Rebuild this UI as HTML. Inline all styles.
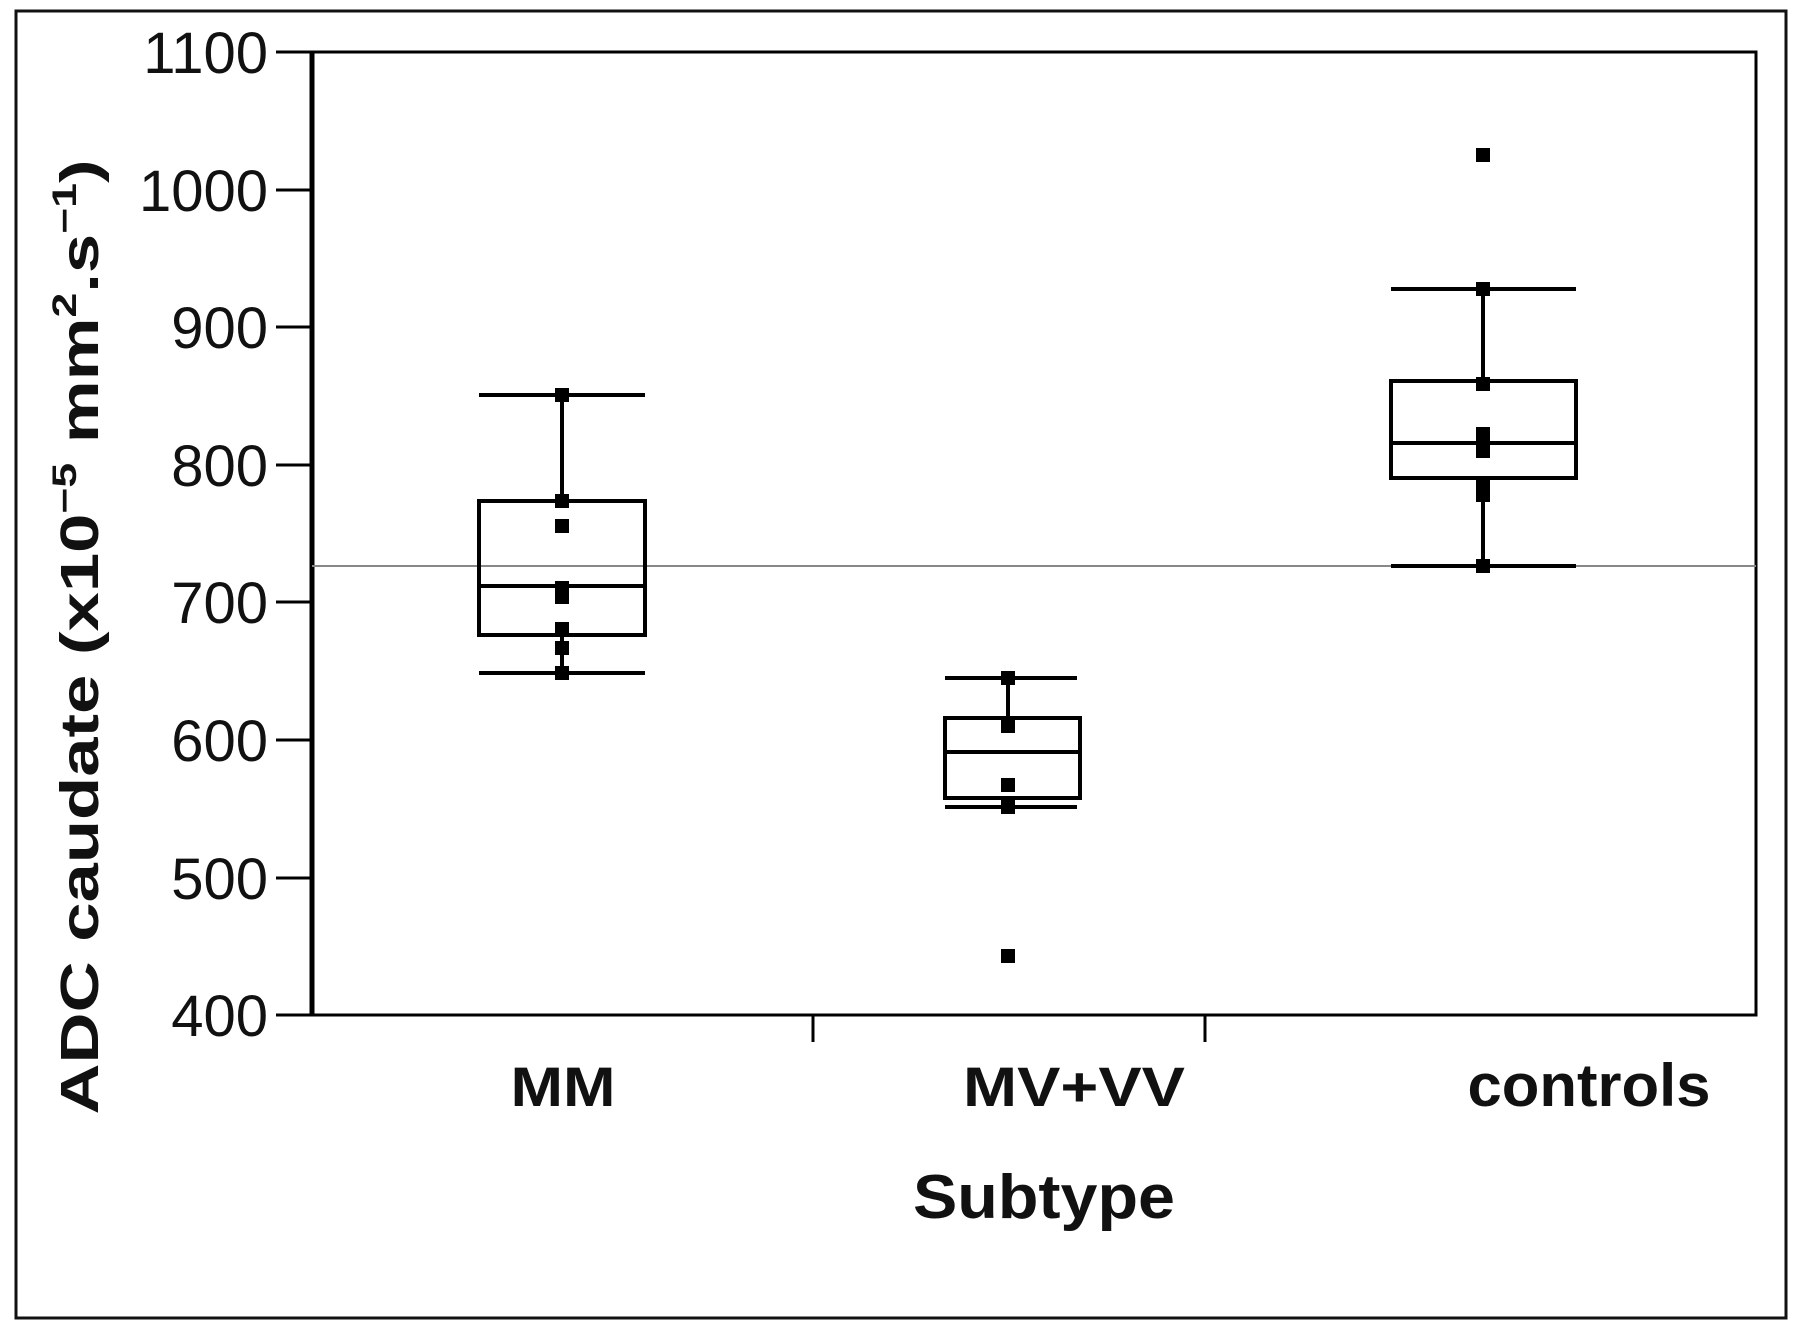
<!DOCTYPE html>
<html><head><meta charset="utf-8"><style>body{margin:0;background:#fff}svg{display:block}</style></head>
<body>
<svg width="1800" height="1329" viewBox="0 0 1800 1329" xmlns="http://www.w3.org/2000/svg" font-family="Liberation Sans, sans-serif">
<rect x="16" y="11" width="1770" height="1307" fill="none" stroke="#111" stroke-width="3"/>
<rect x="312" y="52" width="1444" height="963" fill="none" stroke="#000" stroke-width="3"/>
<line x1="312" y1="52" x2="312" y2="1015" stroke="#000" stroke-width="5"/>
<g stroke="#000" stroke-width="3">
<line x1="276" y1="52" x2="312" y2="52"/><line x1="276" y1="190" x2="312" y2="190"/><line x1="276" y1="327" x2="312" y2="327"/><line x1="276" y1="465" x2="312" y2="465"/><line x1="276" y1="602" x2="312" y2="602"/><line x1="276" y1="740" x2="312" y2="740"/><line x1="276" y1="878" x2="312" y2="878"/><line x1="276" y1="1015" x2="312" y2="1015"/>
<line x1="813" y1="1015" x2="813" y2="1042"/><line x1="1205" y1="1015" x2="1205" y2="1042"/>
</g>
<g font-size="58" text-anchor="end" fill="#111">
<text x="268" y="73">1100</text><text x="268" y="211">1000</text><text x="268" y="348">900</text><text x="268" y="486">800</text><text x="268" y="623">700</text><text x="268" y="761">600</text><text x="268" y="899">500</text><text x="268" y="1036">400</text>
</g>
<line x1="312" y1="566" x2="1756" y2="566" stroke="#888" stroke-width="2"/>
<g stroke="#000" stroke-width="4" fill="none">
<line x1="479" y1="395" x2="645" y2="395"/><line x1="479" y1="673" x2="645" y2="673"/>
<line x1="562" y1="395" x2="562" y2="501"/><line x1="562" y1="635" x2="562" y2="673"/>
<rect x="479" y="501" width="166" height="134"/><line x1="479" y1="586" x2="645" y2="586"/>
<line x1="945" y1="678" x2="1077" y2="678"/><line x1="945" y1="807" x2="1077" y2="807"/>
<line x1="1008" y1="678" x2="1008" y2="718"/>
<rect x="945" y="718" width="135" height="80"/><line x1="945" y1="752" x2="1080" y2="752"/>
<line x1="1391" y1="289" x2="1576" y2="289"/><line x1="1391" y1="566" x2="1576" y2="566"/>
<line x1="1483" y1="289" x2="1483" y2="381"/><line x1="1483" y1="478" x2="1483" y2="566"/>
<rect x="1391" y="381" width="185" height="97"/><line x1="1391" y1="443" x2="1576" y2="443"/>
</g>
<g fill="#000">
<rect x="555" y="388" width="14" height="14"/><rect x="555" y="494" width="14" height="14"/><rect x="555" y="519" width="14" height="14"/><rect x="555" y="581" width="14" height="14"/><rect x="555" y="590" width="14" height="14"/><rect x="555" y="622" width="14" height="14"/><rect x="555" y="641" width="14" height="14"/><rect x="555" y="666" width="14" height="14"/>
<rect x="1001" y="671" width="14" height="14"/><rect x="1001" y="719" width="14" height="14"/><rect x="1001" y="778" width="14" height="14"/><rect x="1001" y="800" width="14" height="14"/><rect x="1001" y="949" width="14" height="14"/>
<rect x="1476" y="148" width="14" height="14"/><rect x="1476" y="282" width="14" height="14"/><rect x="1476" y="377" width="14" height="14"/><rect x="1476" y="427" width="14" height="14"/><rect x="1476" y="444" width="14" height="14"/><rect x="1476" y="478" width="14" height="14"/><rect x="1476" y="488" width="14" height="14"/><rect x="1476" y="559" width="14" height="14"/>
</g>
<g font-weight="bold" text-anchor="middle" fill="#111">
<text x="563" y="1106" font-size="56" textLength="105" lengthAdjust="spacingAndGlyphs">MM</text>
<text x="1074" y="1106" font-size="56" textLength="222" lengthAdjust="spacingAndGlyphs">MV+VV</text>
<text x="1589" y="1106" font-size="60" textLength="243" lengthAdjust="spacingAndGlyphs">controls</text>
<text x="1044" y="1218" font-size="62" textLength="262" lengthAdjust="spacingAndGlyphs">Subtype</text>
</g>
<text transform="translate(98,637) rotate(-90)" text-anchor="middle" font-size="54" font-weight="bold" fill="#111" textLength="955" lengthAdjust="spacingAndGlyphs">ADC caudate (x10<tspan font-size="34" dy="-22">−5</tspan><tspan dy="22"> mm</tspan><tspan font-size="34" dy="-22">2</tspan><tspan dy="22">.s</tspan><tspan font-size="34" dy="-22">−1</tspan><tspan dy="22">)</tspan></text>
</svg>
</body></html>
